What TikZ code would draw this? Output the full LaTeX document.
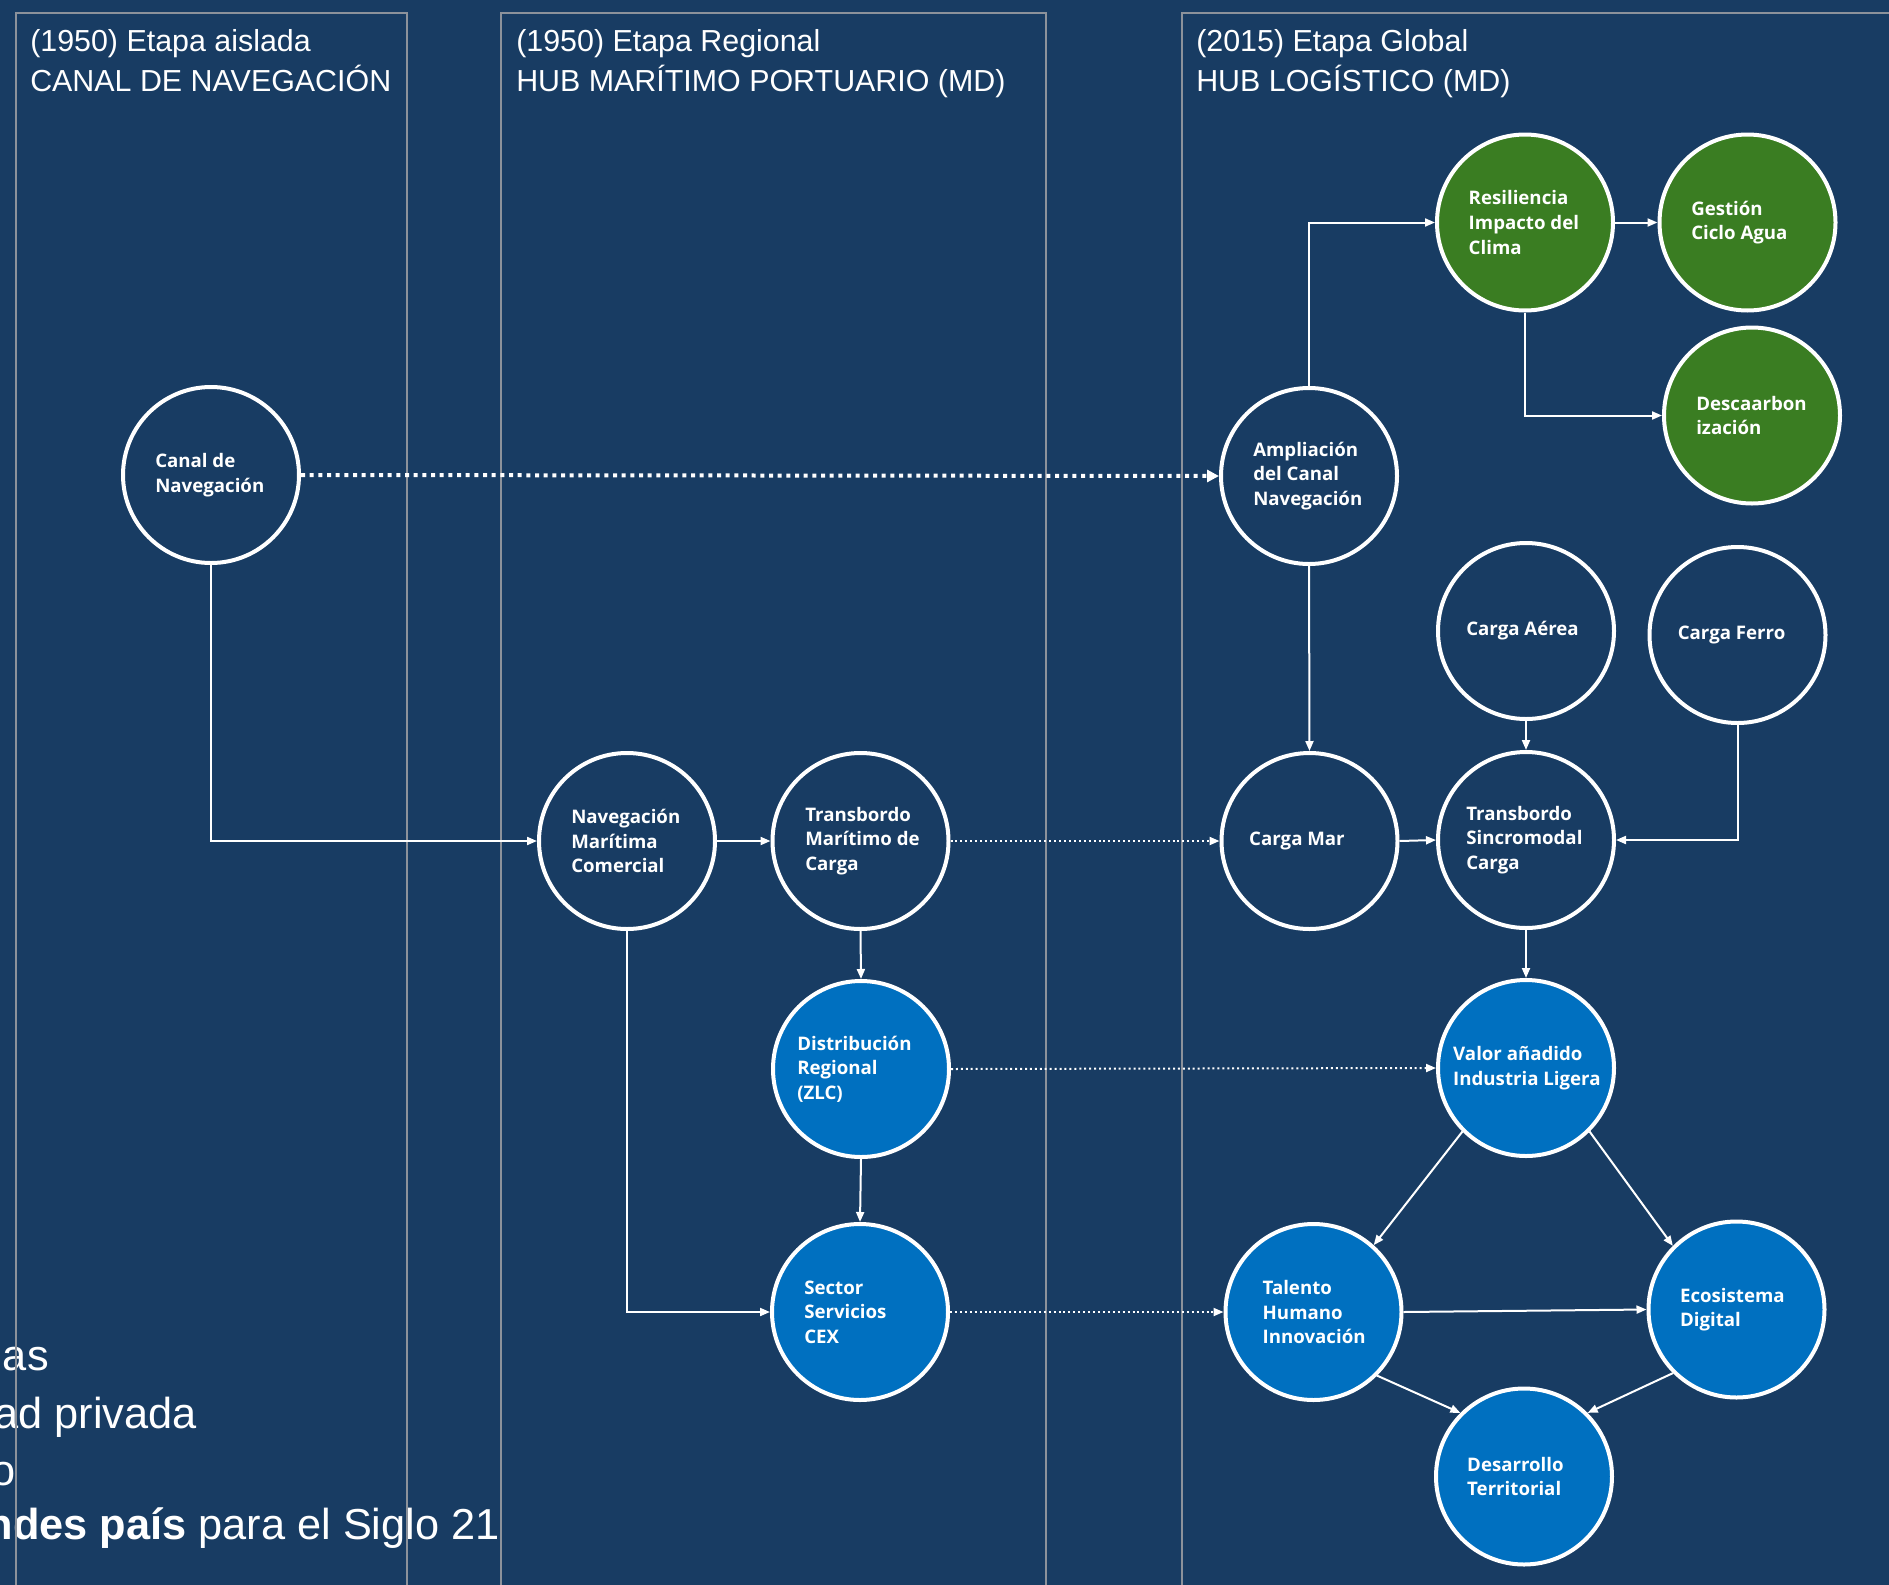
\documentclass[tikz,border=0pt]{standalone}
\usepackage{fontspec}
\setmainfont{Liberation Sans}
\newfontfamily\nodefont{Open Sans}
\usetikzlibrary{arrows.meta}
\definecolor{bg}{RGB}{24,60,99}
\definecolor{cblue}{RGB}{0,112,192}
\definecolor{cgreen}{RGB}{58,125,34}
\definecolor{panelc}{RGB}{140,146,155}
\begin{document}
\begin{tikzpicture}[x=0.75pt,y=-0.75pt,
  circ/.style={circle, draw=white, line width=3pt, minimum size=132pt, inner sep=0pt},
  navycirc/.style={circ, fill=bg},
  bluecirc/.style={circ, fill=cblue},
  greencirc/.style={circ, fill=cgreen},
  lbl/.style={anchor=west, align=left, text=white, inner sep=0pt,
    font=\nodefont\bfseries\fontsize{14}{18.5}\selectfont},
  title/.style={anchor=base west, inner sep=0pt, text=white, font=\fontsize{22.8}{30}\selectfont},
  bottomtxt/.style={anchor=base east, inner sep=0pt, text=white, font=\fontsize{32.5}{40}\selectfont},
  conn/.style={draw=white, line width=1.5pt, -{Triangle[length=7.5pt,width=6pt]}},
  dotconn/.style={conn, dash pattern=on 1.5pt off 2.2pt},
  bigdot/.style={draw=white, line width=3pt, dash pattern=on 3pt off 3.5pt, -{Triangle[length=9pt,width=9pt]}},
  panel/.style={draw=panelc, line width=1.5pt}
]
\fill[bg] (0,0) rectangle (1889,1585);
\useasboundingbox (0,0) rectangle (1889,1585);

% bottom-left text (clipped at the page edge, as in the reference)
\node[bottomtxt] (b1) at (49,1370.7) {as};
\node[bottomtxt] (b2) at (197,1428) {ad privada};
\node[bottomtxt] (b3) at (16,1485) {o};
\node[bottomtxt] (b4) at (500,1539) {\textbf{ndes país} para el Siglo 21};

% panels
\draw[panel] (16,1600) -- (16,13) -- (407,13) -- (407,1600);
\draw[panel] (501,1600) -- (501,13) -- (1046,13) -- (1046,1600);
\draw[panel] (1182,1600) -- (1182,13) -- (1900,13);

% titles
\node[title] (h1a) at (30,51.7) {(1950) Etapa aislada};
\node[title] (h1b) at (30,91.7) {CANAL DE NAVEGACIÓN};
\node[title] (h2a) at (516,51.7) {(1950) Etapa Regional};
\node[title] (h2b) at (516,91.7) {HUB MARÍTIMO PORTUARIO (MD)};
\node[title] (h3a) at (1196,51.7) {(2015) Etapa Global};
\node[title] (h3b) at (1196,91.7) {HUB LOGÍSTICO (MD)};

% circles
\node[navycirc] (c1) at (211,475) {};
\node[navycirc] (c2) at (1309,476) {};
\node[greencirc] (c3) at (1525,222.5) {};
\node[greencirc] (c4) at (1747.5,222.5) {};
\node[greencirc] (c5) at (1752,415.5) {};
\node[navycirc] (c6) at (1526,631) {};
\node[navycirc] (c7) at (1737.5,635) {};
\node[navycirc] (c8) at (1309.5,841) {};
\node[navycirc] (c9) at (1526,840) {};
\node[navycirc] (c10) at (627,841) {};
\node[navycirc] (c11) at (860.5,841) {};
\node[bluecirc] (c12) at (861,1069) {};
\node[bluecirc] (c13) at (860,1312) {};
\node[bluecirc] (c14) at (1526,1068) {};
\node[bluecirc] (c15) at (1313.5,1312) {};
\node[bluecirc] (c16) at (1736.5,1309.5) {};
\node[bluecirc] (c17) at (1524,1476.5) {};

% labels
\node[lbl] (t1) at ([xshift=-42pt]c1.center) {Canal de\\Navegación};
\node[lbl] (t2) at ([xshift=-42pt]c2.center) {Ampliación\\del Canal\\Navegación};
\node[lbl] (t3) at ([xshift=-42.4pt]c3.center) {Resiliencia\\Impacto del\\Clima};
\node[lbl] (t4) at ([xshift=-42.4pt]c4.center) {Gestión\\Ciclo Agua};
\node[lbl] (t5) at ([xshift=-42pt]c5.center) {Descaarbon\\ización};
\node[lbl] (t6) at ([xshift=-45pt]c6.center) {Carga Aérea};
\node[lbl] (t7) at ([xshift=-45pt]c7.center) {Carga Ferro};
\node[lbl] (t8) at ([xshift=-45.4pt]c8.center) {Carga Mar};
\node[lbl] (t9) at ([xshift=-45pt]c9.center) {Transbordo\\Sincromodal\\Carga};
\node[lbl] (t10) at ([xshift=-42pt]c10.center) {Navegación\\Marítima\\Comercial};
\node[lbl] (t11) at ([xshift=-41.6pt]c11.center) {Transbordo\\Marítimo de\\Carga};
\node[lbl] (t12) at ([xshift=-48pt]c12.center) {Distribución\\Regional\\(ZLC)};
\node[lbl] (t13) at ([xshift=-42pt]c13.center) {Sector\\Servicios\\CEX};
\node[lbl] (t14) at ([xshift=-54.8pt]c14.center) {Valor añadido\\Industria Ligera};
\node[lbl] (t15) at ([xshift=-38.3pt]c15.center) {Talento\\Humano\\Innovación};
\node[lbl] (t16) at ([xshift=-42.5pt]c16.center) {Ecosistema\\Digital};
\node[lbl] (t17) at ([xshift=-42.8pt]c17.center) {Desarrollo\\Territorial};

% connectors
\draw[bigdot] (c1.east) -- (c2.west);
\draw[conn] (c1.south) |- (c10.west);
\draw[conn] (c2.north) |- (c3.west);
\draw[conn] (c3.east) -- (c4.west);
\draw[conn] (c3.south) |- (c5.west);
\draw[conn] (c2.south) -- (c8.north);
\draw[conn] (c10.east) -- (c11.west);
\draw[dotconn] (c11.east) -- (c8.west);
\draw[conn] (c8.east) -- (c9.west);
\draw[conn] (c6.south) -- (c9.north);
\draw[conn] (c7.south) |- (c9.east);
\draw[conn] (c9.south) -- (c14.north);
\draw[conn] (c11.south) -- (c12.north);
\draw[conn] (c12.south) -- (c13.north);
\draw[conn] (c10.south) |- (c13.west);
\draw[dotconn] (c12.east) -- (c14.west);
\draw[dotconn] (c13.east) -- (c15.west);
\draw[conn] (c14.225) -- (c15.48);
\draw[conn] (c14.-45) -- (c16.135);
\draw[conn] (c15.east) -- (c16.west);
\draw[conn] (c15.-45) -- (c17.135);
\draw[conn] (c16.225) -- (c17.45);
\end{tikzpicture}
\end{document}
